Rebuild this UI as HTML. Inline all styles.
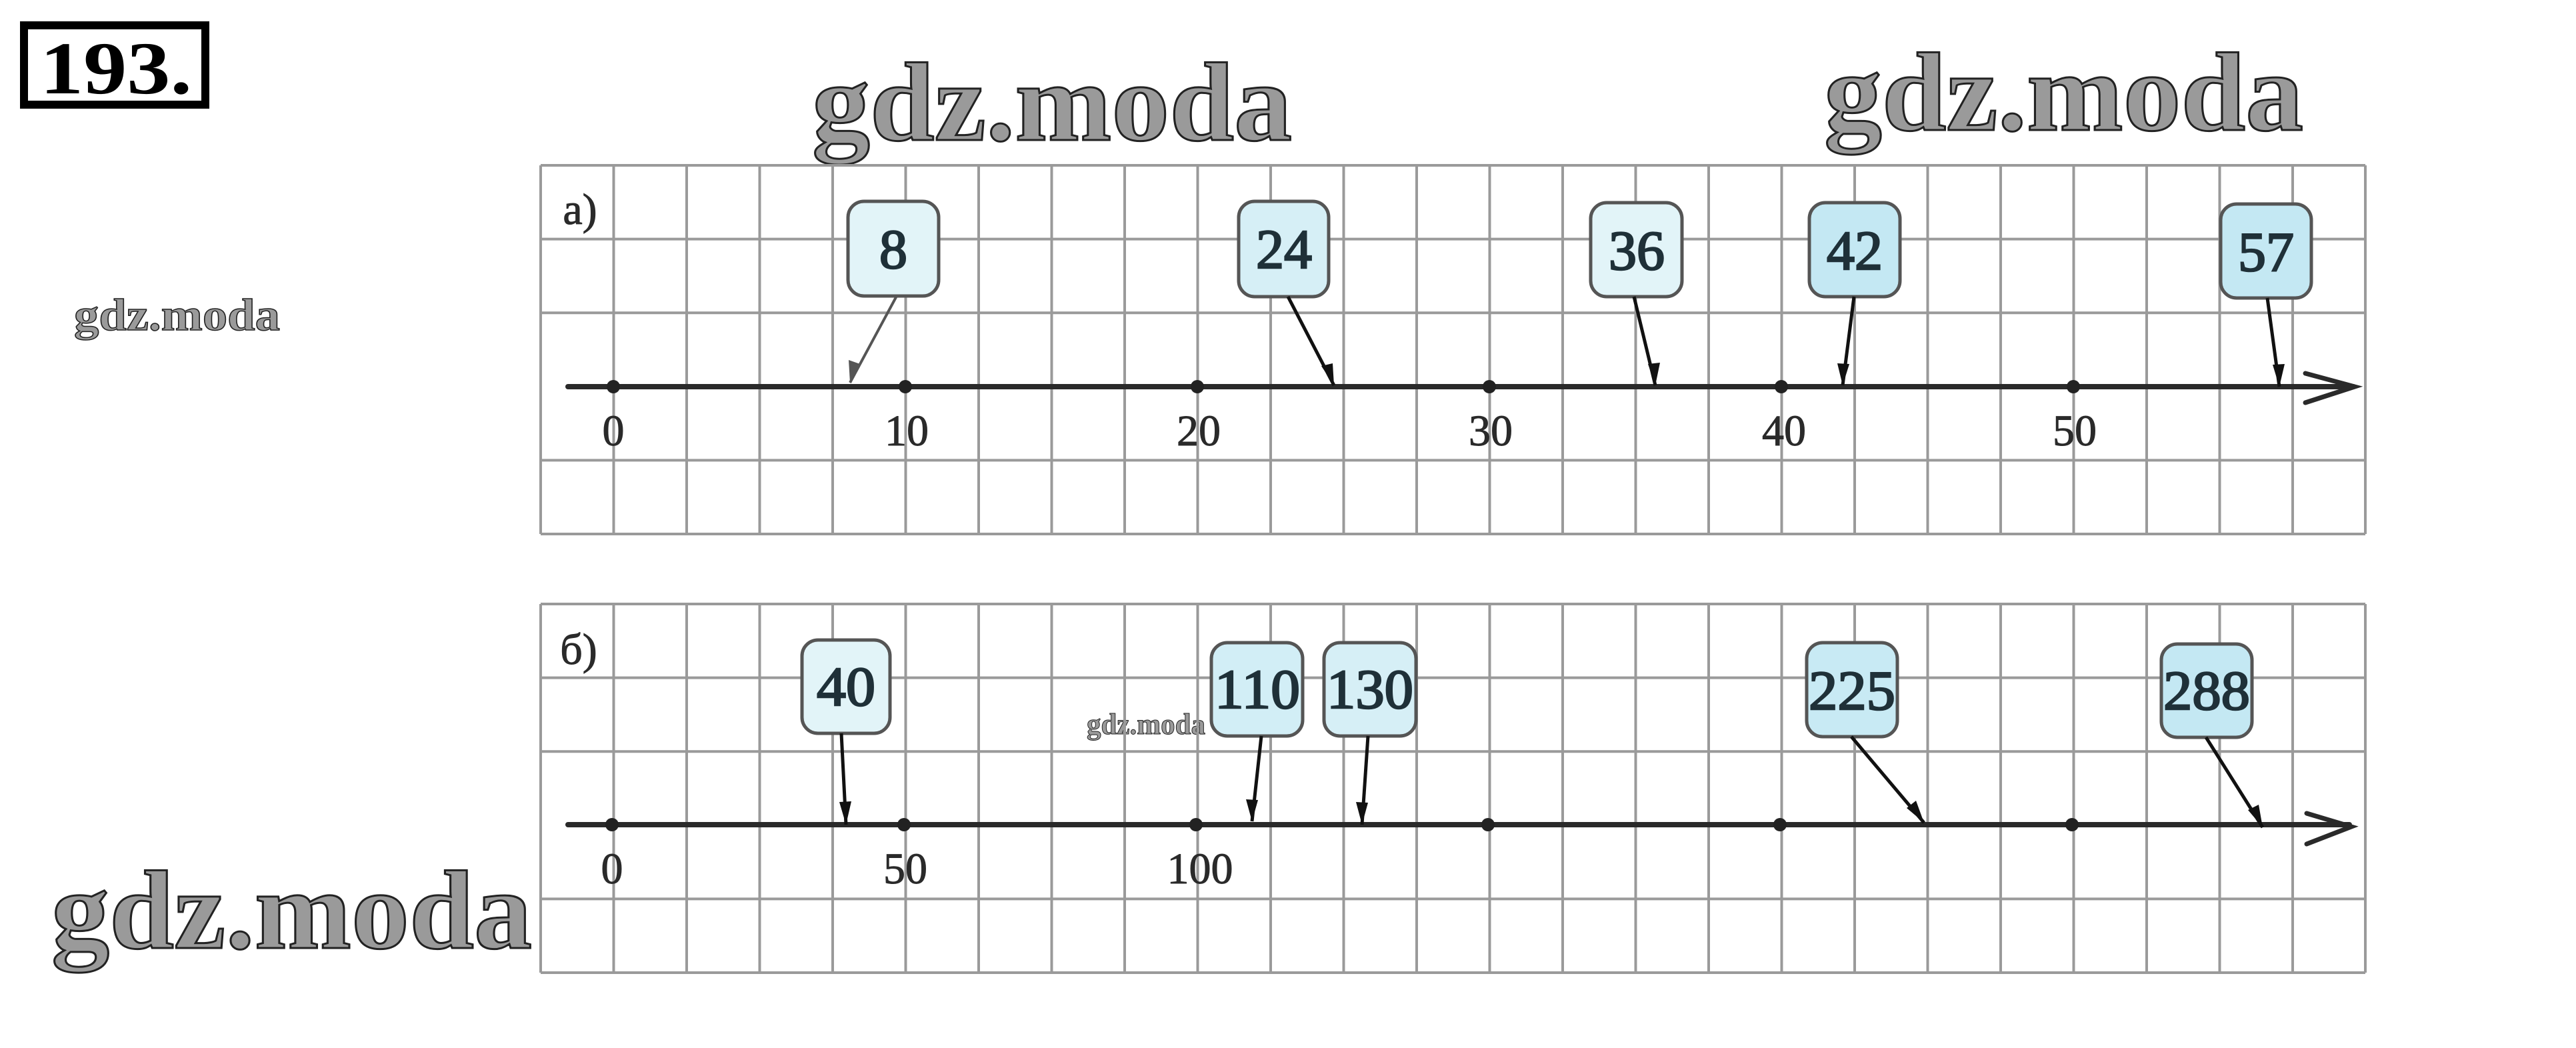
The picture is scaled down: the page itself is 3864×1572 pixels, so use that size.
<!DOCTYPE html>
<html><head><meta charset="utf-8"><style>html,body{margin:0;padding:0;background:#fff}svg{display:block}</style></head>
<body>
<svg xmlns="http://www.w3.org/2000/svg" width="3864" height="1572" viewBox="0 0 3864 1572">
<rect width="3864" height="1572" fill="#fff"/>

<!-- 193 box -->
<rect x="36" y="38" width="272" height="119" fill="#fff" stroke="#000" stroke-width="12"/>
<text x="60" y="140" font-family="Liberation Serif, serif" font-weight="bold" font-size="112" textLength="228" lengthAdjust="spacingAndGlyphs" fill="#000">193.</text>

<!-- watermarks -->
<g font-family="Liberation Serif, serif" font-weight="bold" fill="#9a9a9a" stroke="#222" stroke-width="3">
<text x="1218" y="210" font-size="168" textLength="720" lengthAdjust="spacingAndGlyphs">gdz.moda</text>
<text x="2736" y="195" font-size="168" textLength="719" lengthAdjust="spacingAndGlyphs">gdz.moda</text>
<text x="77" y="1422" font-size="168" textLength="721" lengthAdjust="spacingAndGlyphs">gdz.moda</text>
<text x="111" y="495" font-size="68" stroke-width="1.5" textLength="309" lengthAdjust="spacingAndGlyphs">gdz.moda</text>
<text x="1630" y="1101" font-size="44" stroke-width="1" textLength="178" lengthAdjust="spacingAndGlyphs">gdz.moda</text>
</g>

<!-- grids -->
<g stroke="#9a9a9a" stroke-width="4" fill="none">
<path d="
M811 248V801 M920.5 248V801 M1030 248V801 M1139.5 248V801 M1249 248V801 M1358.5 248V801 M1468 248V801 M1577.5 248V801 M1687 248V801 M1796.5 248V801 M1906 248V801 M2015.5 248V801 M2125 248V801 M2234.5 248V801 M2344 248V801 M2453.5 248V801 M2563 248V801 M2672.5 248V801 M2782 248V801 M2891.5 248V801 M3001 248V801 M3110.5 248V801 M3220 248V801 M3329.5 248V801 M3439 248V801 M3548 248V801
M811 248H3548 M811 358.6H3548 M811 469.2H3548 M811 690.4H3548 M811 801H3548"/>
<path d="
M811 906V1459 M920.5 906V1459 M1030 906V1459 M1139.5 906V1459 M1249 906V1459 M1358.5 906V1459 M1468 906V1459 M1577.5 906V1459 M1687 906V1459 M1796.5 906V1459 M1906 906V1459 M2015.5 906V1459 M2125 906V1459 M2234.5 906V1459 M2344 906V1459 M2453.5 906V1459 M2563 906V1459 M2672.5 906V1459 M2782 906V1459 M2891.5 906V1459 M3001 906V1459 M3110.5 906V1459 M3220 906V1459 M3329.5 906V1459 M3439 906V1459 M3548 906V1459
M811 906H3548 M811 1016.6H3548 M811 1127.2H3548 M811 1348.4H3548 M811 1459H3548"/>
</g>

<!-- axes -->
<g stroke="#2a2a2a" stroke-width="8" fill="none" stroke-linecap="round">
<path d="M852 580H3530"/>
<path d="M3458 560L3532 580L3458 604" stroke-width="7"/>
<path d="M852 1237H3524"/>
<path d="M3460 1220L3527 1240L3460 1266" stroke-width="7"/>
</g>
<g fill="#222">
<circle cx="920" cy="580" r="10"/><circle cx="1358" cy="580" r="10"/><circle cx="1796" cy="580" r="10"/><circle cx="2234" cy="580" r="10"/><circle cx="2672" cy="580" r="10"/><circle cx="3110" cy="580" r="10"/>
<circle cx="918" cy="1237" r="10"/><circle cx="1356" cy="1237" r="10"/><circle cx="1794" cy="1237" r="10"/><circle cx="2232" cy="1237" r="10"/><circle cx="2670" cy="1237" r="10"/><circle cx="3108" cy="1237" r="10"/>
</g>

<!-- labels -->
<g font-family="Liberation Serif, serif" font-size="66" fill="#2a2a2a" stroke="#2a2a2a" stroke-width="1" text-anchor="middle">
<text x="870" y="336">a)</text>
<text x="868" y="996">б)</text>
<text x="920" y="668">0</text><text x="1360" y="668">10</text><text x="1798" y="668">20</text><text x="2236" y="668">30</text><text x="2676" y="668">40</text><text x="3112" y="668">50</text>
<text x="918" y="1325">0</text><text x="1358" y="1325">50</text><text x="1800" y="1325">100</text>
</g>

<!-- boxes -->
<g stroke="#555" stroke-width="5">
<rect x="1272" y="302" width="136" height="142" rx="24" fill="#e2f4f8"/>
<rect x="1858" y="302" width="135" height="143" rx="24" fill="#d6eff6"/>
<rect x="2386" y="304" width="137" height="141" rx="24" fill="#e2f4f8"/>
<rect x="2714" y="304" width="136" height="141" rx="24" fill="#c4e8f3"/>
<rect x="3331" y="306" width="136" height="141" rx="24" fill="#c4e8f3"/>
<rect x="1203" y="960" width="132" height="140" rx="24" fill="#e2f4f8"/>
<rect x="1817" y="964" width="137" height="140" rx="24" fill="#d2eef6"/>
<rect x="1986" y="964" width="138" height="140" rx="24" fill="#d6eff6"/>
<rect x="2710" y="964" width="136" height="141" rx="24" fill="#c8eaf4"/>
<rect x="3242" y="966" width="136" height="140" rx="24" fill="#c4e8f3"/>
</g>
<g font-family="Liberation Serif, serif" font-size="84" fill="#1f3038" stroke="#1f3038" stroke-width="2.5" text-anchor="middle">
<text x="1340" y="402">8</text>
<text x="1926" y="402" textLength="84" lengthAdjust="spacingAndGlyphs">24</text>
<text x="2455" y="404" textLength="84" lengthAdjust="spacingAndGlyphs">36</text>
<text x="2782" y="404" textLength="84" lengthAdjust="spacingAndGlyphs">42</text>
<text x="3399" y="406" textLength="84" lengthAdjust="spacingAndGlyphs">57</text>
<text x="1269" y="1058" textLength="88" lengthAdjust="spacingAndGlyphs">40</text>
<text x="1886" y="1062" textLength="128" lengthAdjust="spacingAndGlyphs">110</text>
<text x="2055" y="1062" textLength="130" lengthAdjust="spacingAndGlyphs">130</text>
<text x="2778" y="1064" textLength="130" lengthAdjust="spacingAndGlyphs">225</text>
<text x="3310" y="1064" textLength="130" lengthAdjust="spacingAndGlyphs">288</text>
</g>

<!-- pointer arrows -->
<g stroke="#111" stroke-width="5" fill="none">
<line x1="1345" y1="444" x2="1275" y2="574" stroke="#555" stroke-width="4"/>
<line x1="1932" y1="445" x2="2001" y2="578"/>
<line x1="2451" y1="445" x2="2483" y2="578"/>
<line x1="2781" y1="445" x2="2764" y2="578"/>
<line x1="3401" y1="447" x2="3419" y2="580"/>
<line x1="1262" y1="1100" x2="1269" y2="1237"/>
<line x1="1892" y1="1104" x2="1878" y2="1232"/>
<line x1="2052" y1="1104" x2="2043" y2="1237"/>
<line x1="2777" y1="1105" x2="2886" y2="1234"/>
<line x1="3309" y1="1106" x2="3394" y2="1241"/>
</g>
<g fill="#111">
<polygon points="1275,574 1273,540 1290,546" fill="#555"/>
<polygon points="2001,578 1982,549 1999,545"/>
<polygon points="2483,578 2472,546 2490,544"/>
<polygon points="2764,578 2756,545 2774,546"/>
<polygon points="3419,580 3409,547 3427,546"/>
<polygon points="1269,1237 1259,1203 1277,1202"/>
<polygon points="1878,1232 1869,1199 1887,1200"/>
<polygon points="2043,1237 2034,1203 2052,1204"/>
<polygon points="2886,1234 2860,1212 2874,1201"/>
<polygon points="3394,1241 3372,1215 3388,1207"/>
</g>
</svg>
</body></html>
